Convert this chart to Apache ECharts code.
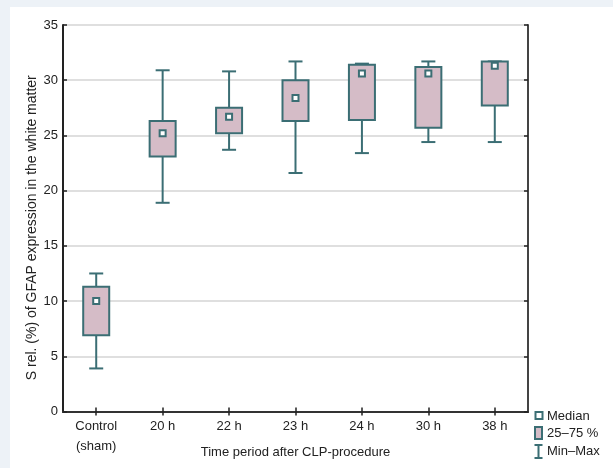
<!DOCTYPE html>
<html>
<head>
<meta charset="utf-8">
<script src="https://cdn.jsdelivr.net/npm/echarts@6/dist/echarts.min.js"></script>
<style>
html,body{margin:0;padding:0;background:#edf2f7;}
#wrap{position:relative;width:613px;height:468px;background:#edf2f7;overflow:hidden;}
#panel{position:absolute;left:10px;top:7px;right:0;bottom:0;background:#ffffff;}
#chart{position:absolute;left:0;top:0;width:613px;height:468px;}
</style>
</head>
<body>
<div id="wrap"><div id="panel"></div><div id="chart"></div></div>
<script>
// Data
const categories = ['Control\n(sham)', '20 h', '22 h', '23 h', '24 h', '30 h', '38 h'];
const minValues    = [3.9, 18.9, 23.7, 21.6, 23.4, 24.4, 24.4];
const q1Values     = [6.9, 23.1, 25.2, 26.3, 26.4, 25.7, 27.7];
const medianValues = [10.0, 25.2, 26.7, 28.4, 30.6, 30.6, 31.3];
const q3Values     = [11.3, 26.3, 27.5, 30.0, 31.4, 31.2, 31.7];
const maxValues    = [12.5, 30.9, 30.8, 31.7, 31.5, 31.7, 31.7];
const yTicks = [0, 5, 10, 15, 20, 25, 30, 35];

const TEAL = '#3b6e74';
const FILL = '#d5bcc7';
const FONT = 'Liberation Sans, Arial, sans-serif';

const chart = echarts.init(document.getElementById('chart'), null, {renderer: 'canvas'});

const whiskerData = categories.map((c, i) => [i, minValues[i], maxValues[i]]);
const boxData = categories.map((c, i) => [i, q1Values[i], q3Values[i]]);
const medianData = categories.map((c, i) => [i, medianValues[i]]);

const option = {
  backgroundColor: 'transparent',
  animation: false,
  textStyle: {fontFamily: FONT},
  grid: {left: 63, top: 25, right: 85, bottom: 56.5, containLabel: false, outerBoundsMode: 'none'},
  legend: {
    orient: 'vertical',
    left: 532,
    top: 408.5,
    height: 60,
    padding: 0,
    itemWidth: 9,
    itemHeight: 13,
    itemGap: 2,
    selectedMode: false,
    textStyle: {fontFamily: FONT, fontSize: 13, color: '#222', padding: [0, 0, 0, -1]},
    data: [
      {name: 'Median', icon: 'path://M0,0M9,13M1.5,2.5H8.5V9.5H1.5Z', itemStyle: {color: '#ffffff', borderColor: TEAL, borderWidth: 2}},
      {name: '25–75 %', icon: 'path://M0,0M9,13M1,0.5H8V12.5H1Z', itemStyle: {color: FILL, borderColor: TEAL, borderWidth: 2}},
      {name: 'Min–Max', icon: 'path://M0,0H8M4,0V13M0,13H8', itemStyle: {color: 'none', borderColor: TEAL, borderWidth: 2}}
    ]
  },
  xAxis: [
    {
      type: 'category', data: categories, position: 'bottom', boundaryGap: true,
      axisLine: {show: true, lineStyle: {color: '#222', width: 2}},
      axisTick: {show: true, inside: true, alignWithLabel: true, length: 4, lineStyle: {color: '#222', width: 1.5}},
      axisLabel: {color: '#222', fontSize: 13, fontFamily: FONT, margin: 5, lineHeight: 20, interval: 0},
      name: 'Time period after CLP-procedure', nameLocation: 'middle', nameGap: 34, nameMoveOverlap: false,
      nameTextStyle: {color: '#222', fontSize: 13, fontFamily: FONT},
      splitLine: {show: false}
    },
    {
      type: 'category', data: categories, position: 'top', boundaryGap: true,
      axisLine: {show: true, lineStyle: {color: '#333', width: 2}},
      axisTick: {show: true, inside: true, alignWithLabel: true, length: 4, lineStyle: {color: '#222', width: 1.5}},
      axisLabel: {show: false},
      splitLine: {show: false}
    }
  ],
  yAxis: [
    {
      type: 'value', min: 0, max: 35, interval: 5, position: 'left',
      axisLine: {show: true, lineStyle: {color: '#222', width: 2}},
      axisTick: {show: true, inside: true, length: 4, lineStyle: {color: '#222', width: 1.5}},
      axisLabel: {color: '#222', fontSize: 13, fontFamily: FONT, margin: 5,
        customValues: yTicks},
      splitLine: {show: true, lineStyle: {color: '#d4d4d4', width: 1.5}},
      name: 'S rel. (%) of GFAP expression in the white matter',
      nameLocation: 'middle', nameRotate: 90, nameGap: 24, nameMoveOverlap: false,
      nameTextStyle: {color: '#222', fontSize: 14, fontFamily: FONT, padding: [0, 19, 0, 0]}
    },
    {
      type: 'value', min: 0, max: 35, interval: 5, position: 'right',
      axisLine: {show: true, lineStyle: {color: '#444', width: 2}},
      axisTick: {show: true, inside: true, length: 4, lineStyle: {color: '#222', width: 1.5}},
      axisLabel: {show: false},
      splitLine: {show: false}
    }
  ],
  series: [
    {
      name: 'Min–Max',
      type: 'custom',
      xAxisIndex: 0, yAxisIndex: 0,
      z: 2,
      data: whiskerData,
      renderItem: function (params, api) {
        const x = api.value(0);
        const lo = api.coord([x, api.value(1)]);
        const hi = api.coord([x, api.value(2)]);
        const half = 7;
        const style = {stroke: TEAL, lineWidth: 2, fill: null};
        return {
          type: 'group',
          children: [
            {type: 'line', shape: {x1: lo[0], y1: lo[1], x2: hi[0], y2: hi[1]}, style: style},
            {type: 'line', shape: {x1: lo[0] - half, y1: lo[1], x2: lo[0] + half, y2: lo[1]}, style: style},
            {type: 'line', shape: {x1: hi[0] - half, y1: hi[1], x2: hi[0] + half, y2: hi[1]}, style: style}
          ]
        };
      }
    },
    {
      name: '25–75 %',
      type: 'custom',
      xAxisIndex: 0, yAxisIndex: 0,
      z: 3,
      data: boxData,
      renderItem: function (params, api) {
        const x = api.value(0);
        const lo = api.coord([x, api.value(1)]);
        const hi = api.coord([x, api.value(2)]);
        const w = 26;
        return {
          type: 'rect',
          shape: {x: lo[0] - w / 2, y: hi[1], width: w, height: lo[1] - hi[1]},
          style: {fill: FILL, stroke: TEAL, lineWidth: 2}
        };
      }
    },
    {
      name: 'Median',
      type: 'scatter',
      xAxisIndex: 0, yAxisIndex: 0,
      z: 4,
      symbol: 'rect',
      symbolSize: 6,
      itemStyle: {color: '#ffffff', borderColor: TEAL, borderWidth: 2, opacity: 1},
      data: medianData
    }
  ]
};
chart.setOption(option);
</script>
</body>
</html>
